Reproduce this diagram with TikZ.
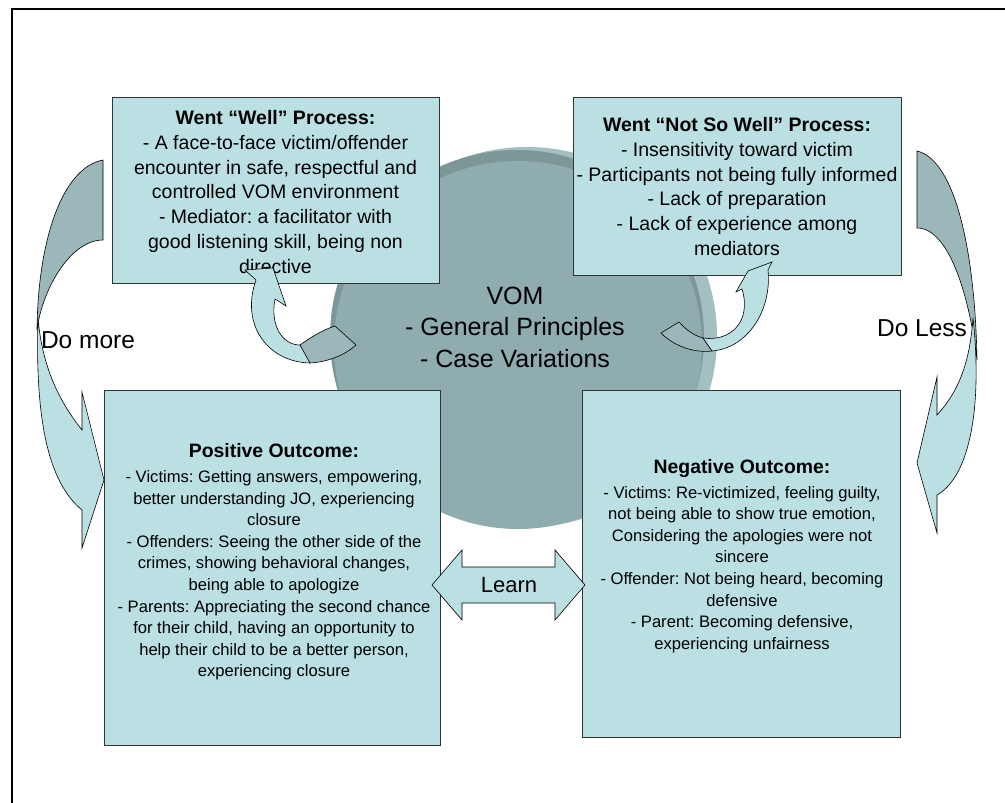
\documentclass[tikz,border=0pt]{standalone}
\usepackage{fontspec}
\setmainfont{Liberation Sans}
\frenchspacing
\definecolor{boxfill}{HTML}{BBE0E3}
\definecolor{disc}{HTML}{8FACAE}
\definecolor{discdark}{HTML}{7D9799}
\definecolor{disclight}{HTML}{A3BFC1}
\definecolor{backfill}{HTML}{9BB7B9}
\definecolor{edge}{HTML}{333333}
\newcommand\paneltitlefont{\bfseries\fontsize{19.4}{21.6}\selectfont}
\begin{document}
\begin{tikzpicture}[x=1pt,y=-1pt,
  panel/.style={draw=edge,line width=0.9pt,fill=boxfill,inner sep=0pt,anchor=north west},
  arrowfront/.style={draw=black,line width=0.6pt,fill=boxfill,line join=miter},
  arrowback/.style={draw=black,line width=0.6pt,fill=backfill},
  toptext/.style={align=center,font=\fontsize{19.5}{24.8}\selectfont,inner sep=0pt},
  bottext/.style={align=center,font=\fontsize{16.6}{21.6}\selectfont,inner sep=0pt},
  plainlabel/.style={inner sep=0pt}]
\useasboundingbox (0,0) rectangle (1005,803);
\fill[white] (0,0) rectangle (1005,803);

% outer frame (left and top edges)
\coordinate (frameBL) at (12,803);
\coordinate (frameTL) at (12,9);
\coordinate (frameTR) at (1005,9);
\draw[line width=2.6pt] (frameBL) -- (frameTL) -- (frameTR);

% central disc with shaded rims
\fill[disclight] (527,337) circle[radius=190];
\fill[discdark] (517,337) circle[radius=187];
\fill[disc] (518,345) circle[radius=184];

% panels
\node[panel,minimum width=327pt,minimum height=186pt] (wellbox) at (112,97) {};
\node[panel,minimum width=328pt,minimum height=178pt] (notwellbox) at (573,97) {};
\node[panel,minimum width=336pt,minimum height=355pt] (posbox) at (104,390) {};
\node[panel,minimum width=318pt,minimum height=347pt] (negbox) at (582,390) {};

\node[toptext] (welltext) at (275.5,192) {{\bfseries Went “Well” Process:}\\
- A face-to-face victim/offender\\
encounter in safe, respectful and\\
controlled VOM environment\\
- Mediator: a facilitator with\\
good listening skill, being non\\
directive};

\node[toptext] (notwelltext) at (737,186.5) {{\bfseries Went “Not So Well” Process:}\\
- Insensitivity toward victim\\
- Participants not being fully informed\\
- Lack of preparation\\
- Lack of experience among\\
mediators};

\node[bottext] (postext) at (274,562) {{\paneltitlefont Positive Outcome:}\\[3pt]
- Victims: Getting answers, empowering,\\
better understanding JO, experiencing\\
closure\\
- Offenders: Seeing the other side of the\\
crimes, showing behavioral changes,\\
being able to apologize\\
- Parents: Appreciating the second chance\\
for their child, having an opportunity to\\
help their child to be a better person,\\
experiencing closure};

\node[bottext] (negtext) at (742,556) {{\paneltitlefont Negative Outcome:}\\[3pt]
- Victims: Re-victimized, feeling guilty,\\
not being able to show true emotion,\\
Considering the apologies were not\\
sincere\\
- Offender: Not being heard, becoming\\
defensive\\
- Parent: Becoming defensive,\\
experiencing unfairness};

% centre text
\node[align=center,inner sep=0pt,font=\fontsize{25}{31.5}\selectfont] (vom) at (515,327)
  {VOM\\ - General Principles\\ - Case Variations};

% big curved arrow on the left
\draw[arrowback] (103,160) .. controls (62,168) and (38,240) .. (37,330)
  .. controls (42,290) and (70,240) .. (103,240) -- cycle;
\draw[arrowfront] (38,318) .. controls (35,420) and (48,482) .. (82,510)
  -- (82,548) -- (104,480) -- (82,392) -- (82,430)
  .. controls (58,400) and (42,365) .. (38,318) -- cycle;

% big curved arrow on the right
\draw[arrowback] (917,151) .. controls (955,160) and (975,250) .. (977,360)
  .. controls (970,300) and (950,228) .. (917,228) -- cycle;
\draw[arrowfront] (973,318) .. controls (982,400) and (972,475) .. (937,495)
  -- (937,533) -- (917,463) -- (937,377) -- (937,415)
  .. controls (960,390) and (970,360) .. (973,318) -- cycle;

\node[plainlabel,font=\fontsize{24.5}{28}\selectfont] (domore) at (88,340) {Do more};
\node[plainlabel,font=\fontsize{24.5}{28}\selectfont] (doless) at (922,328) {Do Less};

% small curved arrow into the left panel
\draw[arrowback] (300,345) .. controls (310,338) and (322,330) .. (335,326)
  -- (356,345) .. controls (345,355) and (328,362) .. (310,363)
  .. controls (304,358) and (301,352) .. (300,345) -- cycle;
\draw[arrowfront] (256,280) -- (245,270) -- (273,268) -- (286,306) -- (275,299)
  .. controls (270,325) and (282,345) .. (300,345)
  -- (310,363) .. controls (268,362) and (240,325) .. (256,280) -- cycle;

% small curved arrow into the right panel
\draw[arrowback] (661,333) -- (679,322) .. controls (688,332) and (696,336) .. (703,338)
  -- (712,351) .. controls (695,353) and (675,347) .. (661,333) -- cycle;
\draw[arrowfront] (742,289) -- (736,292) -- (748,271) -- (772,262) -- (768,270)
  .. controls (772,310) and (748,348) .. (712,351)
  -- (703,338) .. controls (730,342) and (752,322) .. (742,289) -- cycle;

% two-headed arrow between the outcome panels
\draw[arrowfront] (432,585) -- (462,550) -- (462,567) -- (555,567) -- (555,550)
  -- (585,585) -- (555,620) -- (555,603) -- (462,603) -- (462,620) -- cycle;
\node[plainlabel,font=\fontsize{22}{26}\selectfont] (learn) at (509,585) {Learn};
\end{tikzpicture}
\end{document}
